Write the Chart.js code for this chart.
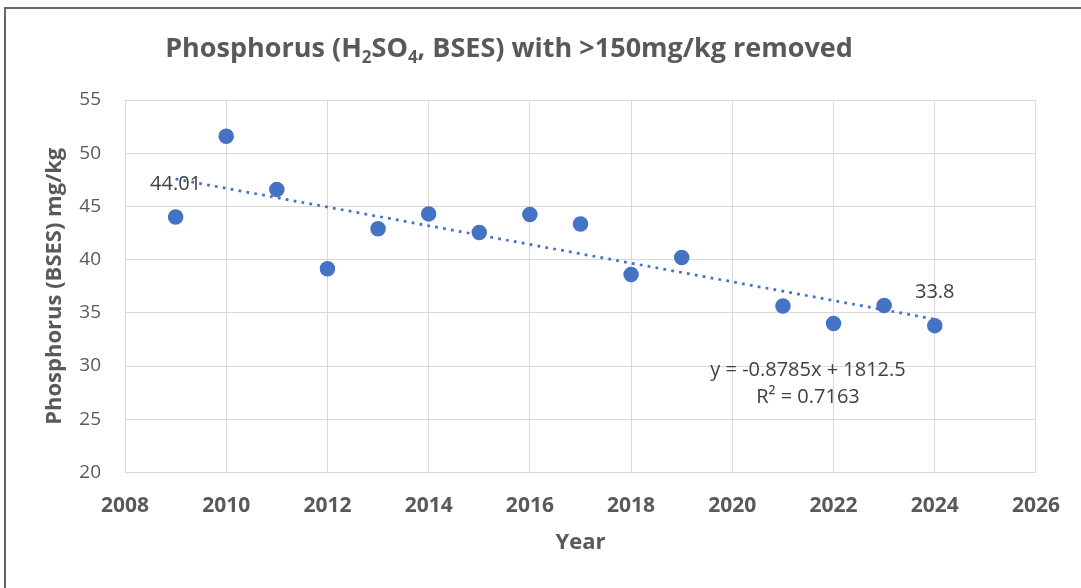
<!DOCTYPE html>
<html>
<head>
<meta charset="utf-8">
<script src="https://cdn.jsdelivr.net/npm/chart.js@4.4.1/dist/chart.umd.min.js"></script>
<style>
  body { margin: 0; background: #fff; overflow: hidden; }
  #frame { position: absolute; left: 4px; top: 7px; width: 2000px; height: 2000px;
           border-left: 2px solid #666; border-top: 2px solid #666; }
  #wrap { position: absolute; left: 0; top: 0; width: 1081px; height: 588px; }
</style>
</head>
<body>
<div id="frame"></div>
<div id="wrap"><canvas id="grafico" width="1081" height="588"></canvas></div>
<script>
// Datos
const years = [2009, 2010, 2011, 2012, 2013, 2014, 2015, 2016, 2017, 2018, 2019, 2021, 2022, 2023, 2024];
const phosphorus = [44.01, 51.6, 46.6, 39.15, 42.9, 44.3, 42.55, 44.25, 43.35, 38.6, 40.2, 35.65, 34.0, 35.7, 33.8];

// Línea de tendencia (extremos)
const trendYears = [2009, 2024];
const trendValues = [47.58, 34.4];

const xTicks = [2008, 2010, 2012, 2014, 2016, 2018, 2020, 2022, 2024, 2026];
const yTicks = [20, 25, 30, 35, 40, 45, 50, 55];

// Título con subíndices: [texto, esSubindice]
const titleParts = [["Phosphorus (H", false], ["2", true], ["SO", false], ["4", true], [", BSES) with >150mg/kg removed", false]];
const equationLines = ["y = -0.8785x + 1812.5", "R\u00B2 = 0.7163"];
const labeledPoints = [0, years.length - 1];

const FONT = "'Open Sans', 'Liberation Sans', sans-serif";
const gris = '#595959';
const azul = '#4472C4';

// Plugin para título, etiquetas y ecuación
const textos = {
    id: 'textos',
    afterDraw(chart) {
        const ctx = chart.ctx;
        const xs = chart.scales.x;
        const ys = chart.scales.y;
        ctx.save();

        // título
        const big = "bold 27px " + FONT;
        const small = "bold 17px " + FONT;
        let total = 0;
        titleParts.forEach(p => {
            ctx.font = p[1] ? small : big;
            total += ctx.measureText(p[0]).width;
        });
        let x = 509 - total / 2;
        ctx.fillStyle = gris;
        ctx.textBaseline = 'alphabetic';
        ctx.textAlign = 'left';
        titleParts.forEach(p => {
            ctx.font = p[1] ? small : big;
            ctx.fillText(p[0], x, p[1] ? 63 : 57);
            x += ctx.measureText(p[0]).width;
        });

        // etiquetas de datos
        ctx.font = "20px " + FONT;
        ctx.fillStyle = '#404040';
        ctx.textAlign = 'center';
        ctx.textBaseline = 'middle';
        labeledPoints.forEach(i => {
            const px = xs.getPixelForValue(years[i]);
            const py = ys.getPixelForValue(phosphorus[i]);
            ctx.fillText(String(phosphorus[i]), px, py - 33);
        });

        // ecuación de la tendencia
        ctx.font = "20px " + FONT;
        ctx.fillText(equationLines[0], 808, 370);
        ctx.fillText(equationLines[1], 808, 397);
        ctx.restore();
    }
};

const ctx = document.getElementById('grafico').getContext('2d');
const chart = new Chart(ctx, {
    type: 'scatter',
    data: {
        datasets: [{
            type: 'line',
            data: trendYears.map((y, i) => ({ x: y, y: trendValues[i] })),
            borderColor: azul,
            borderWidth: 2.75,
            borderDash: [2.75, 5.25],
            pointRadius: 0,
            fill: false
        }, {
            data: years.map((y, i) => ({ x: y, y: phosphorus[i] })),
            backgroundColor: azul,
            borderColor: azul,
            borderWidth: 0,
            pointRadius: 7.75
        }]
    },
    options: {
        responsive: false,
        animation: false,
        devicePixelRatio: 1,
        layout: { padding: { top: 100, left: 0, right: 42, bottom: 0 } },
        plugins: { legend: { display: false }, tooltip: { enabled: false } },
        scales: {
            x: {
                type: 'linear',
                min: 2008,
                max: 2026,
                afterBuildTicks: s => { s.ticks = xTicks.map(v => ({ value: v })); },
                afterFit: s => { s.height = 115.5; },
                grid: { color: '#d9d9d9', drawTicks: false },
                border: { color: '#d9d9d9' },
                ticks: {
                    padding: 21,
                    color: gris,
                    font: { family: FONT, size: 21, weight: 'bold' },
                    callback: v => String(v)
                },
                title: {
                    display: true,
                    text: 'Year',
                    color: gris,
                    font: { family: FONT, size: 22, weight: 'bold' },
                    padding: { top: 0, bottom: 32 }
                }
            },
            y: {
                min: 20,
                max: 55,
                afterBuildTicks: s => { s.ticks = yTicks.map(v => ({ value: v })); },
                afterFit: s => { s.width = 125; },
                grid: { color: '#d9d9d9', drawTicks: false },
                border: { color: '#d9d9d9' },
                ticks: {
                    padding: 24,
                    color: gris,
                    font: { family: FONT, size: 19 }
                },
                title: {
                    display: true,
                    text: 'Phosphorus (BSES) mg/kg',
                    color: gris,
                    font: { family: FONT, size: 22, weight: 'bold' },
                    padding: { top: 42, bottom: 0 }
                }
            }
        }
    },
    plugins: [textos]
});
</script>
</body>
</html>
